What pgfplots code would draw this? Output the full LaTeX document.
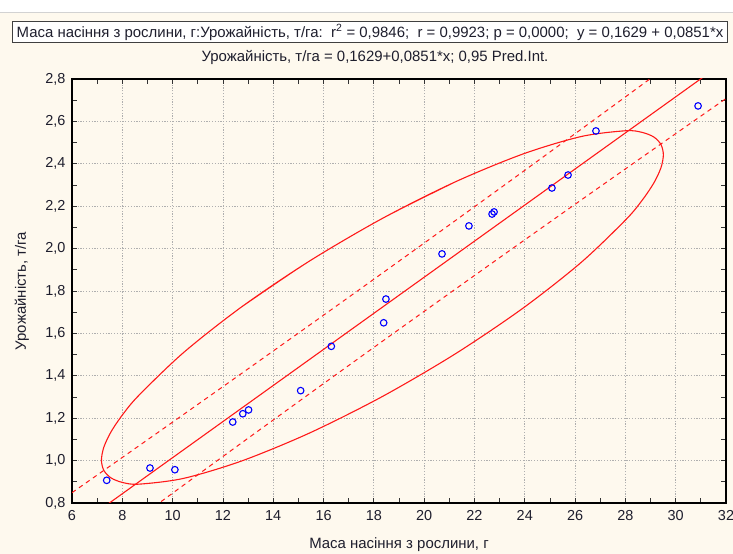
\documentclass[border=0pt]{standalone}
\usepackage{fontspec}
\setmainfont{Liberation Sans}
\usepackage{pgfplots}
\pgfplotsset{compat=1.18}
\definecolor{bgcream}{RGB}{254,249,238}
\definecolor{ptblue}{RGB}{0,0,255}
\definecolor{fitred}{RGB}{255,25,25}
\definecolor{txt}{RGB}{30,30,45}
\definecolor{gridgray}{RGB}{175,175,175}
\begin{document}
\begin{tikzpicture}
\useasboundingbox (-72bp,-51bp) rectangle (661bp,503bp);
\fill[bgcream] (-72bp,-51bp) rectangle (661bp,503bp);
\fill[white] (-72bp,491bp) rectangle (661bp,503bp);
\draw[gray!35, line width=0.8bp] (-72bp,490.5bp) -- (661bp,490.5bp);
\draw[draw=black!75, fill=white, line width=1bp] (-59bp,460bp) rectangle (655bp,481bp);
\node[font=\fontsize{15}{17}\selectfont, text=txt, inner sep=0pt] at (298bp,470.5bp)
  {Маса насіння з рослини, г:Урожайність, т/га:\ \ r\textsuperscript{2} = 0,9846;\ \ r = 0,9923; p = 0,0000;\ \ y = 0,1629 + 0,0851*x};
\node[font=\fontsize{15}{17}\selectfont, text=txt, inner sep=0pt] at (303bp,445bp)
  {Урожайність, т/га = 0,1629+0,0851*x; 0,95 Pred.Int.};
\begin{axis}[
  at={(0,0)}, anchor=south west,
  width=654bp, height=424bp, scale only axis,
  xmin=6, xmax=32, ymin=0.8, ymax=2.8,
  xtick={6,8,10,12,14,16,18,20,22,24,26,28,30,32},
  ytick={0.8,1.0,1.2,1.4,1.6,1.8,2.0,2.2,2.4,2.6,2.8},
  minor x tick num=1, minor y tick num=1,
  tick align=inside,
  major tick length=5bp, minor tick length=5bp,
  tick style={black!80, line width=0.8bp},
  axis line style={black, line width=1.1bp},
  grid=major,
  major grid style={gridgray, line width=0.7bp, dash pattern=on 1.2bp off 1.6bp},
  /pgf/number format/assume math mode=true,
  /pgf/number format/use comma,
  yticklabel style={/pgf/number format/fixed, /pgf/number format/fixed zerofill, /pgf/number format/precision=1},
  ticklabel style={font=\fontsize{14.5}{16}\selectfont, text=txt},
  x tick label style={yshift=-4bp},
  y tick label style={xshift=-3bp},
  clip=true,
]
% 95% ellipse
\addplot[fitred, line width=1.1bp, smooth] coordinates {
(21.231,2.3144) (18.340,2.1424) (15.449,1.9418) (12.755,1.7261) (10.442,1.5103)
(8.667,1.3089) (8.020,1.2179) (7.551,1.1357) (7.266,1.0634) (7.170,1.0024)
(7.266,0.9538) (7.551,0.9183) (8.020,0.8965) (8.667,0.8889) (10.442,0.9163)
(12.755,0.9987) (15.449,1.1304) (18.340,1.3024) (21.231,1.5030) (23.925,1.7187)
(26.238,1.9345) (28.013,2.1359) (28.660,2.2269) (29.129,2.3091) (29.414,2.3814)
(29.510,2.4424) (29.414,2.4910) (29.129,2.5265) (28.660,2.5483) (28.013,2.5559)
(26.238,2.5285) (23.925,2.4461) (21.231,2.3144) (18.340,2.1424) (15.449,1.9418)
(12.755,1.7261)
};
% regression line
\addplot[fitred, line width=1.1bp] coordinates {(6,0.6735) (32,2.8861)};
% prediction band
\addplot[fitred, line width=1bp, dash pattern=on 4.5bp off 4bp, smooth] coordinates {
(6,0.8487) (8,1.0148) (10,1.1814) (12,1.3488) (14,1.5170) (16,1.6858) (18,1.8555)
(20,2.0260) (22,2.1972) (24,2.3692) (26,2.5420) (28,2.7155) (30,2.8896) (32,3.0644)
};
\addplot[fitred, line width=1bp, dash pattern=on 4.5bp off 4bp, smooth] coordinates {
(6,0.4983) (8,0.6726) (10,0.8464) (12,1.0194) (14,1.1916) (16,1.3632) (18,1.5339)
(20,1.7038) (22,1.8730) (24,2.0414) (26,2.2090) (28,2.3759) (30,2.5422) (32,2.7078)
};
% data points
\addplot[only marks, mark=o, mark size=3.3bp, mark options={ptblue, line width=1.1bp}] coordinates {
(7.38,0.907) (9.10,0.965) (10.09,0.957) (12.39,1.182) (12.79,1.221) (13.02,1.239)
(15.09,1.330) (16.31,1.539) (18.39,1.650) (18.48,1.762) (20.71,1.975) (21.78,2.107)
(22.70,2.163) (22.78,2.173) (25.08,2.286) (25.72,2.347) (26.83,2.555) (30.89,2.673)
};
\end{axis}
\node[font=\fontsize{15}{17}\selectfont, text=txt] at (327bp,-42bp) {Маса насіння з рослини, г};
\node[font=\fontsize{15}{17}\selectfont, text=txt, rotate=90] at (-50bp,212bp) {Урожайність, т/га};
\end{tikzpicture}
\end{document}
